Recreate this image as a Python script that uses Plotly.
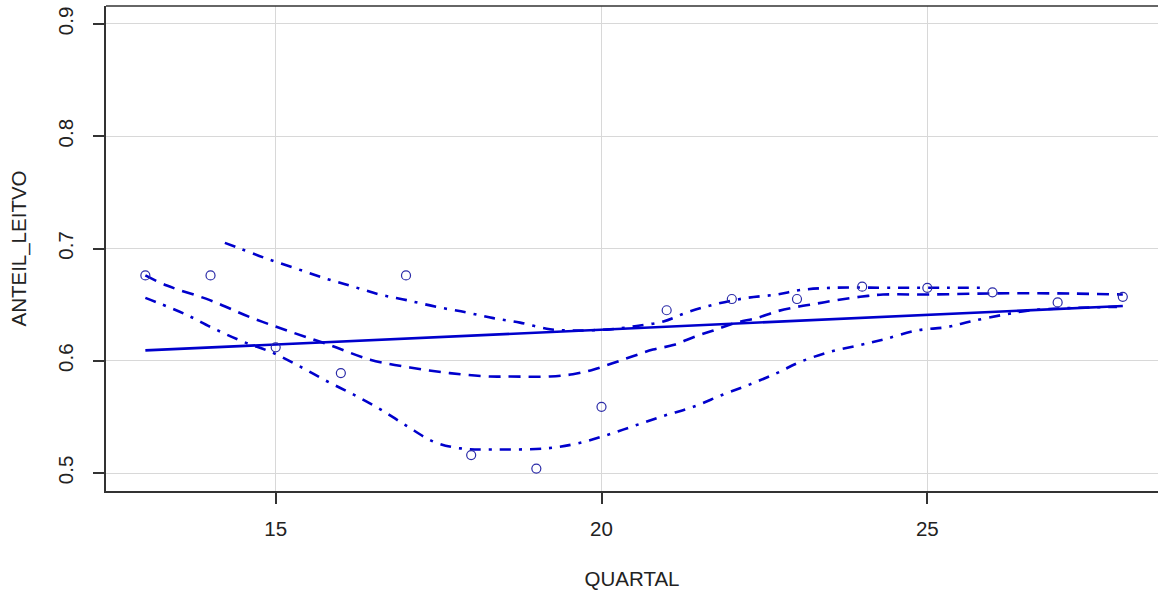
import numpy as np
import plotly.graph_objects as go

# Observed shares per quarter
quartal = [13, 14, 15, 16, 17, 18, 19, 20, 21, 22, 23, 24, 25, 26, 27, 28]
anteil = [0.676, 0.676, 0.612, 0.589, 0.676, 0.516, 0.504, 0.559,
          0.645, 0.655, 0.655, 0.666, 0.665, 0.661, 0.652, 0.657]

# Smoother (loess fit) through the data
smooth_x = [13.0, 13.33, 13.99, 14.6, 15.22, 15.83, 16.45, 17.06, 17.67, 18.29,
            18.6, 19.21, 19.56, 19.87, 20.18, 20.48, 20.79, 21.1, 21.46, 21.77,
            22.07, 22.38, 22.69, 23.0, 23.31, 23.61, 23.97, 24.32, 25.0, 26.0, 27.0, 28.0]
smooth_y = [0.676, 0.667, 0.654, 0.639, 0.626, 0.614, 0.601, 0.594, 0.589, 0.586,
            0.586, 0.586, 0.588, 0.592, 0.598, 0.604, 0.610, 0.614, 0.622, 0.628,
            0.634, 0.638, 0.644, 0.648, 0.651, 0.654, 0.657, 0.659, 0.659, 0.660, 0.660, 0.659]

# Upper spread band
upper_x = [14.22, 14.45, 14.86, 15.32, 15.78, 16.19, 16.6, 17.01, 17.47, 17.93,
           18.34, 18.75, 19.21, 19.6, 20.13, 20.54, 20.95, 21.31, 21.72, 22.23,
           22.69, 23.05, 23.56, 24.53, 25.3, 25.9]
upper_y = [0.705, 0.700, 0.691, 0.682, 0.673, 0.666, 0.659, 0.654, 0.648, 0.643,
           0.638, 0.634, 0.628, 0.627, 0.628, 0.631, 0.635, 0.643, 0.650, 0.656,
           0.659, 0.663, 0.665, 0.665, 0.665, 0.665]

# Lower spread band
lower_x = [13.0, 13.22, 13.63, 14.04, 14.5, 14.96, 15.37, 15.78, 16.19, 16.6,
           17.01, 17.42, 17.83, 18.34, 19.16, 19.6, 20.04, 20.5, 20.96, 21.41,
           21.87, 22.28, 22.69, 23.05, 23.51, 23.97, 24.33, 24.84, 25.3, 25.66,
           26.17, 26.59, 27.2, 27.91]
lower_y = [0.656, 0.651, 0.641, 0.629, 0.617, 0.607, 0.595, 0.582, 0.570, 0.557,
           0.542, 0.528, 0.522, 0.521, 0.522, 0.526, 0.533, 0.542, 0.551, 0.559,
           0.570, 0.579, 0.589, 0.599, 0.608, 0.614, 0.619, 0.627, 0.630, 0.635,
           0.641, 0.645, 0.647, 0.648]

x_ticks = [15, 20, 25]
y_ticks = [0.5, 0.6, 0.7, 0.8, 0.9]

# Least-squares regression line
slope, intercept = np.polyfit(quartal, anteil, 1)
fit_x = [min(quartal), max(quartal)]
fit_y = [intercept + slope * v for v in fit_x]

line_col = "#0000CC"

fig = go.Figure()
fig.add_trace(go.Scatter(x=fit_x, y=fit_y, mode="lines",
                         line=dict(color=line_col, width=2.6)))
fig.add_trace(go.Scatter(x=smooth_x, y=smooth_y, mode="lines",
                         line=dict(color=line_col, width=2.6, dash="12px,8px", shape="spline")))
fig.add_trace(go.Scatter(x=upper_x, y=upper_y, mode="lines",
                         line=dict(color=line_col, width=2.6, dash="11px,8px,3px,8px", shape="spline")))
fig.add_trace(go.Scatter(x=lower_x, y=lower_y, mode="lines",
                         line=dict(color=line_col, width=2.6, dash="11px,8px,3px,8px", shape="spline")))
fig.add_trace(go.Scatter(x=quartal, y=anteil, mode="markers",
                         marker=dict(symbol="circle-open", size=9,
                                     color="#2B2BA8", line=dict(width=1.2, color="#2B2BA8"))))

# Top border of the plotting box
fig.add_shape(type="line", xref="paper", yref="paper", x0=0, x1=1, y0=1, y1=1,
              line=dict(color="#333333", width=1.5))

font = dict(family="Liberation Sans, Arial, sans-serif", size=20.5, color="#222222")

fig.update_layout(
    width=1158, height=595,
    margin=dict(l=106, r=0, t=6, b=104),
    plot_bgcolor="white", paper_bgcolor="white",
    showlegend=False,
    font=font,
    xaxis=dict(range=[12.396, 28.54], tickvals=x_ticks, ticktext=[str(v) for v in x_ticks],
               showgrid=True, gridcolor="#D8D8D8", gridwidth=1, zeroline=False,
               showline=True, linecolor="#333333", linewidth=1.5, mirror=False,
               ticks="outside", ticklen=11, tickcolor="#333333", tickwidth=1.5,
               tickfont=font, ticklabelstandoff=8,
               title=dict(text="QUARTAL", font=font, standoff=32)),
    yaxis=dict(range=[0.484, 0.916], tickvals=y_ticks, ticktext=[f"{v:.1f}" for v in y_ticks],
               showgrid=True, gridcolor="#D8D8D8", gridwidth=1, zeroline=False,
               showline=True, linecolor="#333333", linewidth=1.5, mirror=False,
               ticks="outside", ticklen=11, tickcolor="#333333", tickwidth=1.5,
               tickangle=-90, tickfont=font, ticklabelstandoff=12,
               title=dict(text="ANTEIL_LEITVO", font=font, standoff=22)),
)

fig.write_html("out.html")
